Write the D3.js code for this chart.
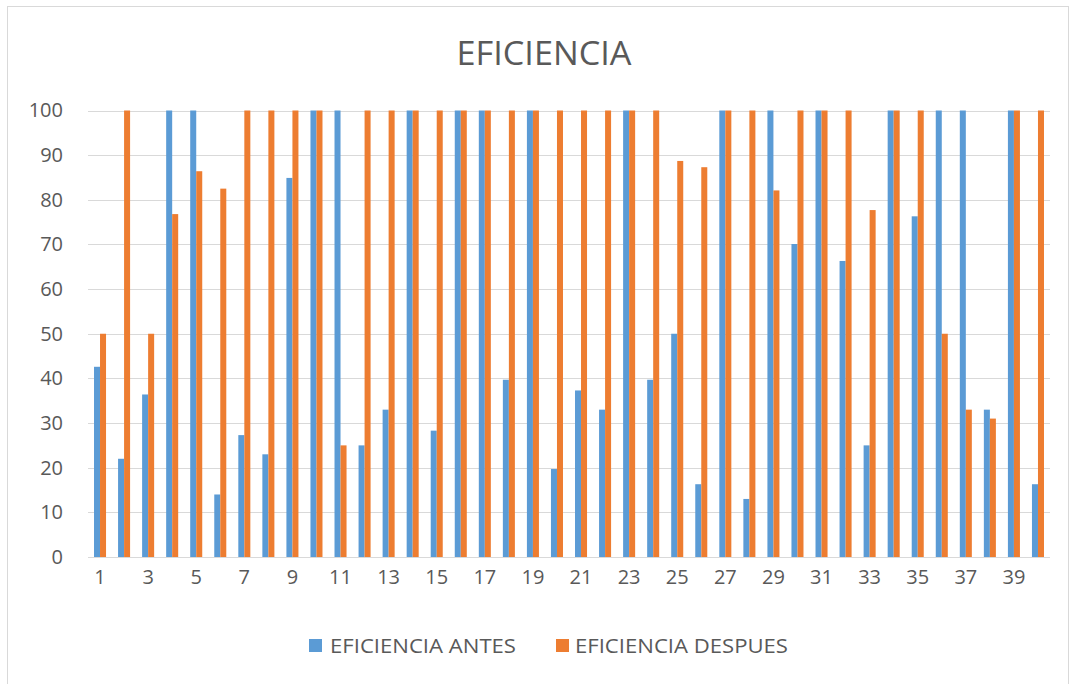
<!DOCTYPE html>
<html>
<head>
<meta charset="utf-8">
<script src="https://cdn.jsdelivr.net/npm/d3@7"></script>
<style>
  html, body { margin: 0; padding: 0; background: #ffffff; }
  svg { display: block; font-family: "Open Sans", "Noto Sans", sans-serif; }
</style>
</head>
<body>
<svg id="chart" width="1072" height="684"></svg>
<script>
// Categories 1..40
const categories = ["1","2","3","4","5","6","7","8","9","10","11","12","13","14","15","16","17","18","19","20",
  "21","22","23","24","25","26","27","28","29","30","31","32","33","34","35","36","37","38","39","40"];

const seriesNames = ["EFICIENCIA ANTES", "EFICIENCIA DESPUES"];

const antes = [42.6, 22, 36.4, 100, 100, 14, 27.3, 23, 84.9, 100,
  100, 25, 33, 100, 28.3, 100, 100, 39.7, 100, 19.7,
  37.3, 33, 100, 39.7, 50, 16.3, 100, 13, 100, 70.1,
  100, 66.3, 25, 100, 76.3, 100, 100, 33, 100, 16.3];

const despues = [50, 100, 50, 76.8, 86.4, 82.5, 100, 100, 100, 100,
  25, 100, 100, 100, 100, 100, 100, 100, 100, 100,
  100, 100, 100, 100, 88.7, 87.3, 100, 100, 82.1, 100,
  100, 100, 77.7, 100, 100, 50, 33, 31, 100, 100];

const yTicks = [0, 10, 20, 30, 40, 50, 60, 70, 80, 90, 100];
const xTickLabels = categories.filter((d, i) => i % 2 === 0);

const colors = ["#5B9BD5", "#ED7D31"];
const textColor = "#595959";
const gridColor = "#D9D9D9";

const svg = d3.select("#chart");

// chart frame
svg.append("rect")
  .attr("x", 7.5).attr("y", 6.5)
  .attr("width", 1061).attr("height", 690)
  .attr("fill", "#ffffff")
  .attr("stroke", "#D9D9D9").attr("stroke-width", 1);

const plot = { left: 88, right: 1050, top: 110.5, bottom: 557 };

const x = d3.scaleBand()
  .domain(categories)
  .range([plot.left, plot.right])
  .paddingInner(0.5)
  .paddingOuter(0.25);

const x1 = d3.scaleBand()
  .domain(seriesNames)
  .range([0, x.bandwidth()]);

const y = d3.scaleLinear().domain([0, 100]).range([plot.bottom, plot.top]);

// gridlines
svg.append("g")
  .selectAll("line")
  .data(yTicks.filter(d => d > 0))
  .join("line")
  .attr("x1", plot.left).attr("x2", plot.right)
  .attr("y1", d => Math.round(y(d)) + 0.5).attr("y2", d => Math.round(y(d)) + 0.5)
  .attr("stroke", gridColor).attr("stroke-width", 1);

// y axis labels
const yAxis = d3.axisLeft(y).tickValues(yTicks).tickSize(0).tickPadding(0);
const gy = svg.append("g").attr("transform", "translate(63,0)").call(yAxis);
gy.select(".domain").remove();
gy.selectAll("text")
  .attr("fill", textColor)
  .style("font-size", "20px")
  .style("font-family", "'Open Sans', sans-serif");

// bars
const rows = categories.map((c, i) => ({ cat: c, values: [antes[i], despues[i]] }));

const groups = svg.append("g")
  .selectAll("g")
  .data(rows)
  .join("g")
  .attr("transform", d => `translate(${x(d.cat)},0)`);

groups.selectAll("rect")
  .data(d => d.values.map((v, k) => ({ key: seriesNames[k], v, k })))
  .join("rect")
  .attr("x", d => x1(d.key))
  .attr("width", x1.bandwidth())
  .attr("y", d => y(d.v))
  .attr("height", d => y(0) - y(d.v))
  .attr("fill", d => colors[d.k]);

// baseline
svg.append("line")
  .attr("x1", plot.left).attr("x2", plot.right)
  .attr("y1", Math.round(y(0)) + 0.5).attr("y2", Math.round(y(0)) + 0.5)
  .attr("stroke", gridColor).attr("stroke-width", 1);

// x axis labels
const xAxis = d3.axisBottom(x).tickValues(xTickLabels).tickSize(0).tickPadding(0);
const gx = svg.append("g").attr("transform", `translate(0,${plot.bottom + 12})`).call(xAxis);
gx.select(".domain").remove();
gx.selectAll("text")
  .attr("fill", textColor)
  .attr("dy", "0.75em")
  .style("font-size", "20px")
  .style("font-family", "'Open Sans', sans-serif");

// title
svg.append("text")
  .attr("x", 544).attr("y", 65)
  .attr("text-anchor", "middle")
  .attr("fill", textColor)
  .attr("textLength", 175)
  .attr("lengthAdjust", "spacingAndGlyphs")
  .style("font-size", "33px")
  .text("EFICIENCIA");

// legend
const legendItems = [
  { name: seriesNames[0], color: colors[0], sx: 309, tx: 330, w: 186 },
  { name: seriesNames[1], color: colors[1], sx: 556, tx: 575, w: 213 }
];
const legend = svg.append("g");
legend.selectAll("rect")
  .data(legendItems)
  .join("rect")
  .attr("x", d => d.sx).attr("y", 639)
  .attr("width", 13).attr("height", 13)
  .attr("fill", d => d.color);
legend.selectAll("text")
  .data(legendItems)
  .join("text")
  .attr("x", d => d.tx).attr("y", 653)
  .attr("fill", textColor)
  .attr("textLength", d => d.w)
  .attr("lengthAdjust", "spacingAndGlyphs")
  .style("font-size", "20px")
  .text(d => d.name);
</script>
</body>
</html>
